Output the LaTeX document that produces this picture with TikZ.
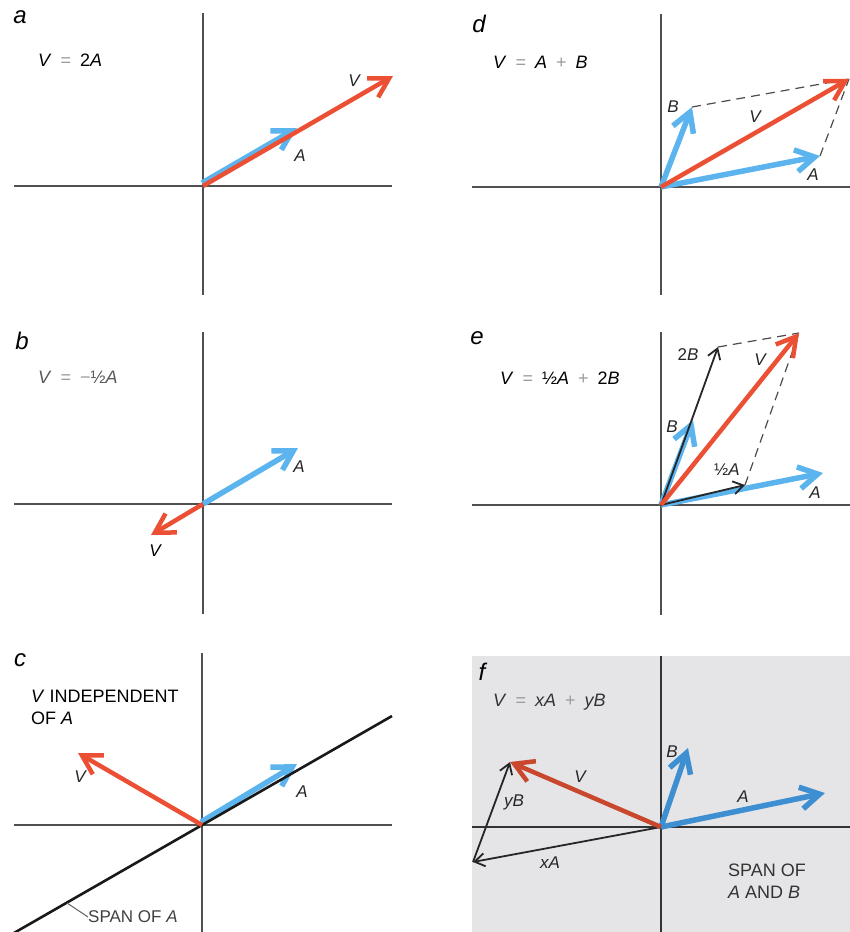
\documentclass[tikz,border=0pt]{standalone}
\usepackage{fontspec}
\setmainfont{Liberation Sans}
\usetikzlibrary{arrows.meta}
\definecolor{VecBlue}{HTML}{5CB4EE}
\definecolor{VecRed}{HTML}{EC5034}
\definecolor{AxisGray}{HTML}{505050}
\definecolor{SpanBlue}{HTML}{3D8FD2}
\definecolor{SpanRed}{HTML}{C9472C}
\definecolor{SpanGray}{HTML}{E5E5E7}
\definecolor{SignGray}{HTML}{9A9A9A}
\newcommand{\eqsign}[1]{\enspace{\color{SignGray}#1}\enspace}

\begin{document}
\begin{tikzpicture}[x=1pt,y=-1pt,
  axis/.style={draw=AxisGray,line width=1.3pt},
  bluevec/.style={draw=VecBlue,line width=5.5pt,-{Straight Barb[length=19pt,width=22pt]}},
  redvec/.style={draw=VecRed,line width=4.5pt,-{Straight Barb[length=19pt,width=22pt]}},
  blackvec/.style={draw=black!85,line width=1.8pt,-{Straight Barb[length=10pt,width=13pt]}},
  guide/.style={draw=black!70,line width=1.2pt,dash pattern=on 9pt off 6pt},
  panel/.style={font=\fontsize{24}{26}\selectfont\itshape,inner sep=0pt},
  eqn/.style={font=\fontsize{18}{21}\selectfont,anchor=west,inner sep=0pt},
  lbl/.style={font=\fontsize{17}{19}\selectfont\itshape,inner sep=0pt,text=black!85},
  note/.style={font=\fontsize{18}{22}\selectfont,align=left,anchor=north west,inner sep=0pt}
]
\useasboundingbox (0,0) rectangle (850,932);

% a
\coordinate (aO) at (203,186);
\coordinate (aA) at (298,131);
\coordinate (aV) at (393,76);
\draw[axis] (203,13) -- (203,295);
\draw[axis] (14,186) -- (392,186);
\draw[bluevec] ([shift={(-1,-3)}]aO) -- ([shift={(-1,-3)}]aA);
\draw[redvec] (aO) -- (aV);
\node[panel] (aname) at (20,17) {a};
\node[eqn] (aeq) at (38,60) {\textit{V}\eqsign{=}2\textit{A}};
\node[lbl] (aVl) at (354,81) {V};
\node[lbl] (aAl) at (300,156) {A};

% d
\coordinate (dO) at (661,187);
\coordinate (dA) at (820,156);
\coordinate (dB) at (692,107);
\coordinate (dV) at (849,79);
\draw[axis] (661,14) -- (661,295);
\draw[axis] (472,187) -- (850,187);
\draw[guide] (dB) -- (dV);
\draw[guide] (dA) -- (dV);
\draw[bluevec] (dO) -- (dA);
\draw[bluevec] (dO) -- (dB);
\draw[redvec] (dO) -- (dV);
\node[panel] (dname) at (479,24) {d};
\node[eqn] (deq) at (493,62) {\textit{V}\eqsign{=}\textit{A}\eqsign{+}\textit{B}};
\node[lbl] (dBl) at (673,107) {B};
\node[lbl] (dVl) at (755,117) {V};
\node[lbl] (dAl) at (813,175) {A};

% b
\coordinate (bO) at (203,504);
\coordinate (bA) at (298,448);
\coordinate (bV) at (151,535);
\draw[axis] (203,332) -- (203,614);
\draw[axis] (14,504) -- (392,504);
\draw[bluevec] (bO) -- (bA);
\draw[redvec] (bO) -- (bV);
\node[panel] (bname) at (22,341) {b};
\node[eqn,text=black!65] (beq) at (38,377) {\textit{V}\eqsign{=}\textcolor{SignGray}{−}½\textit{A}};
\node[lbl] (bAl) at (299,467) {A};
\node[lbl,text=black] (bVl) at (155,551) {V};

% e
\coordinate (eO) at (661,505);
\coordinate (eA) at (823,473);
\coordinate (eB) at (693,420);
\coordinate (eHA) at (745,485);
\coordinate (eTB) at (718,347);
\coordinate (eV) at (799,333);
\draw[axis] (661,332) -- (661,615);
\draw[axis] (472,505) -- (850,505);
\draw[guide] (eTB) -- (eV);
\draw[guide] (eHA) -- (eV);
\draw[bluevec] (eO) -- (eA);
\draw[bluevec] (eO) -- (eB);
\draw[blackvec] (eO) -- (eTB);
\draw[blackvec] (eO) -- (eHA);
\draw[redvec] (eO) -- (eV);
\node[panel] (ename) at (477,338) {e};
\node[eqn] (eeq) at (500,378) {\textit{V}\eqsign{=}½\textit{A}\eqsign{+}2\textit{B}};
\node[lbl] (eTBl) at (688,355) {\upshape 2\itshape B};
\node[lbl] (eVl) at (760,360) {V};
\node[lbl] (eBl) at (672,427) {B};
\node[lbl] (eHAl) at (727,470) {\upshape ½\itshape A};
\node[lbl] (eAl) at (815,493) {A};

% c
\coordinate (cO) at (202,825);
\coordinate (cA) at (298,767);
\coordinate (cV) at (78,753);
\coordinate (cS1) at (392,716);
\coordinate (cS2) at (0,941);
\coordinate (cT) at (67,903);
\draw[axis] (202,653) -- (202,932);
\draw[axis] (14,825) -- (392,825);
\draw[bluevec] ([shift={(-1,-3)}]cO) -- ([shift={(-1,-3)}]cA);
\draw[draw=black!90,line width=2.6pt] (cS2) -- (cS1);
\draw[redvec] (cO) -- (cV);
\node[panel] (cname) at (20,660) {c};
\node[note] (cnote) at (31,690) {\textit{V} INDEPENDENT\\OF \textit{A}};
\node[lbl] (cVl) at (80,777) {V};
\node[lbl] (cAl) at (302,792) {A};
\node[font=\fontsize{17}{19}\selectfont,text=black!75,anchor=west,inner sep=0pt]
  (cspan) at (88,917) {SPAN OF \textit{A}};
\draw[draw=black!60,line width=1pt] (cT) -- (cspan.west);

% f
\fill[SpanGray] (472,656) rectangle (850,932);
\coordinate (fO) at (661,827);
\coordinate (fA) at (825,793);
\coordinate (fB) at (688,748);
\coordinate (fV) at (510,762);
\coordinate (fX) at (473,862);
\draw[axis,draw=black!80] (661,656) -- (661,932);
\draw[axis,draw=black!80] (472,827) -- (850,827);
\draw[bluevec,draw=SpanBlue] (fO) -- (fA);
\draw[bluevec,draw=SpanBlue] (fO) -- (fB);
\draw[blackvec] (fO) -- (fX);
\draw[blackvec] (fX) -- (fV);
\draw[redvec,draw=SpanRed] (fO) -- (fV);
\node[panel] (fname) at (482,672) {f};
\node[eqn,text=black!80] (feq) at (493,702) {\textit{V}\eqsign{=}\textit{xA}\eqsign{+}\textit{yB}};
\node[lbl] (fBl) at (672,752) {B};
\node[lbl] (fVl) at (580,777) {V};
\node[lbl] (fAl) at (743,797) {A};
\node[lbl] (fyBl) at (514,802) {yB};
\node[lbl] (fxAl) at (550,863) {xA};
\node[note,text=black!80] (fspan) at (728,864) {SPAN OF\\\textit{A} AND \textit{B}};
\end{tikzpicture}
\end{document}
